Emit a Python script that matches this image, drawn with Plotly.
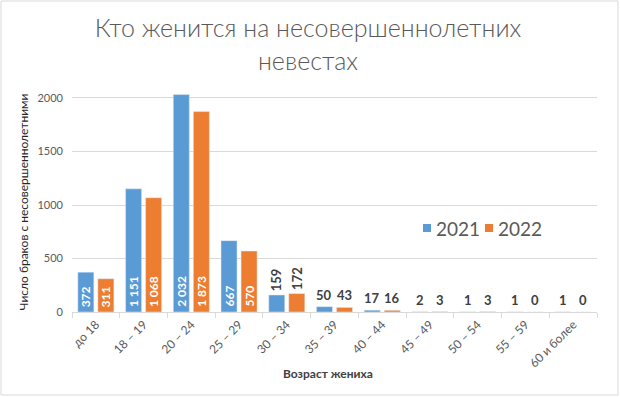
import plotly.graph_objects as go

categories = ["до 18", "18 – 19", "20 – 24", "25 – 29", "30 – 34", "35 – 39",
              "40 – 44", "45 – 49", "50 – 54", "55 – 59", "60 и более"]
v2021 = [372, 1151, 2032, 667, 159, 50, 17, 2, 1, 1, 1]
v2022 = [311, 1068, 1873, 570, 172, 43, 16, 3, 3, 0, 0]
labels2021 = ["372", "1 151", "2 032", "667", "159", "50", "17", "2", "1", "1", "1"]
labels2022 = ["311", "1 068", "1 873", "570", "172", "43", "16", "3", "3", "0", "0"]
series_names = ["2021", "2022"]
inside_threshold = 300

BLUE = "#5B9BD5"
ORANGE = "#ED7D31"
GRAY = "#595959"
FONT = "Lato, Carlito, Calibri, sans-serif"

W, H = 620, 397
L, R, T, B = 72, 23, 92, 85
pw, ph = W - L - R, H - T - B

def px_x(x):
    return (x - L) / pw

def px_y(y):
    return (H - B - y) / ph

fig = go.Figure()
for name, vals, col in [(series_names[0], v2021, BLUE), (series_names[1], v2022, ORANGE)]:
    fig.add_trace(go.Bar(name=name, x=categories, y=vals, marker_color=col,
                         showlegend=False, cliponaxis=False))

annotations = []
for off, vals, labs in [(-0.21, v2021, labels2021), (0.21, v2022, labels2022)]:
    for i, (v, l) in enumerate(zip(vals, labs)):
        if v >= inside_threshold:
            annotations.append(dict(
                x=i + off, y=0, xref="x", yref="y", text=l, showarrow=False,
                textangle=-90, yanchor="bottom", xanchor="center", yshift=3,
                font=dict(size=12, color="white", family=FONT, weight="bold"),
            ))
        else:
            rotated = v > 100
            annotations.append(dict(
                x=i + off, y=v, xref="x", yref="y", text=l, showarrow=False,
                textangle=-90 if rotated else 0,
                yanchor="bottom", xanchor="center", yshift=2,
                font=dict(size=13, color="#404040", family=FONT, weight="bold"),
            ))

# custom legend (squares + labels)
shapes = []
for (sx, tx, name, col) in [(423, 434, series_names[0], BLUE), (485, 496, series_names[1], ORANGE)]:
    shapes.append(dict(type="rect", xref="paper", yref="paper",
                       x0=px_x(sx), x1=px_x(sx + 8), y0=px_y(232), y1=px_y(224),
                       fillcolor=col, line=dict(width=0)))
    annotations.append(dict(x=px_x(tx), y=px_y(228), xref="paper", yref="paper",
                            text=name, showarrow=False, xanchor="left", yanchor="middle",
                            font=dict(size=19, color=GRAY, family=FONT)))

# x-axis title
annotations.append(dict(x=px_x(328), y=px_y(373), xref="paper", yref="paper",
                        text="<b>Возраст жениха</b>", showarrow=False,
                        xanchor="center", yanchor="middle",
                        font=dict(size=12, color="#404040", family=FONT)))

shapes.append(dict(type="rect", xref="paper", yref="paper",
                   x0=px_x(1), x1=px_x(618), y0=px_y(395), y1=px_y(1),
                   line=dict(color="#D9D9D9", width=1), layer="below"))

fig.update_layout(
    width=W, height=H,
    margin=dict(l=L, r=R, t=T, b=B, autoexpand=False),
    paper_bgcolor="white", plot_bgcolor="white",
    barmode="group", bargap=0.16, bargroupgap=0.2,
    font=dict(family=FONT, color=GRAY),
    title=dict(text="Кто женится на несовершеннолетних<br>невестах",
               x=308 / W, xanchor="center", y=1 - 37 / H, yanchor="middle",
               font=dict(size=25, color=GRAY, family=FONT, weight=300)),
    annotations=annotations,
    shapes=shapes,
)
fig.update_xaxes(
    automargin=False,
    tickangle=-45, tickfont=dict(size=12, color=GRAY, family=FONT),
    showline=True, linecolor="#D9D9D9", ticks="outside", tickcolor="#D9D9D9", ticklen=5,
    tickson="boundaries",
)
fig.update_yaxes(
    automargin=False,
    range=[0, 2056], tickvals=[0, 500, 1000, 1500, 2000],
    tickfont=dict(size=11, color=GRAY, family=FONT),
    showgrid=True, gridcolor="#D9D9D9", zeroline=False, ticklabelstandoff=8,
    title=dict(text="Число браков с несовершеннолетними", font=dict(size=12, color="#262626", family=FONT), standoff=6),
)
fig.write_html("out.html", config={"displayModeBar": False},
               post_script="document.body.style.margin='0';document.body.style.overflow='hidden';")
